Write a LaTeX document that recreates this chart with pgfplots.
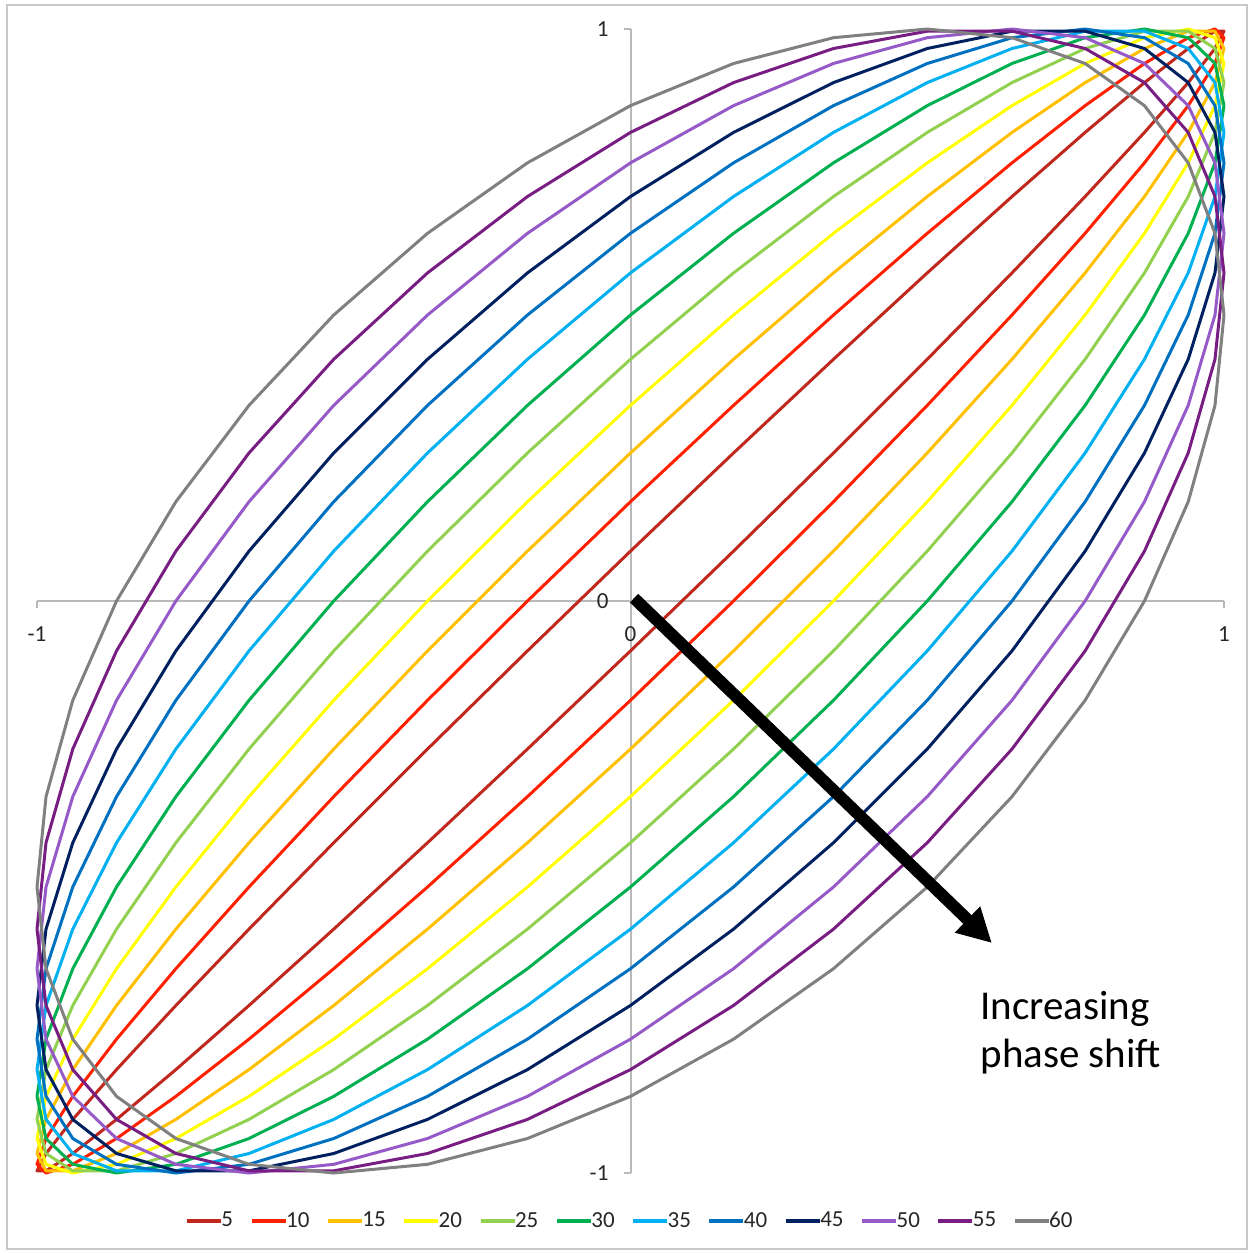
\documentclass[border=0pt]{standalone}
\usepackage{pgfplots}
\pgfplotsset{compat=1.18}
\usepackage{pgfplotstable}
\usepackage{fontspec}
\setmainfont{Carlito}
\usetikzlibrary{arrows.meta}

\definecolor{c5}{RGB}{192,40,30}
\definecolor{c10}{RGB}{255,32,0}
\definecolor{c15}{RGB}{255,192,0}
\definecolor{c20}{RGB}{255,255,0}
\definecolor{c25}{RGB}{146,208,80}
\definecolor{c30}{RGB}{0,176,80}
\definecolor{c35}{RGB}{0,176,240}
\definecolor{c40}{RGB}{0,112,192}
\definecolor{c45}{RGB}{0,32,96}
\definecolor{c50}{RGB}{150,90,200}
\definecolor{c55}{RGB}{120,30,130}
\definecolor{c60}{RGB}{128,128,128}
\definecolor{axgray}{RGB}{185,185,185}
\definecolor{framegray}{RGB}{200,200,200}

% x = sin(t), y = sin(t + phase), t = 0..360 deg in 10 deg steps
\pgfplotstableread{
x y5 y10 y15 y20 y25 y30 y35 y40 y45 y50 y55 y60
0 0.0872 0.1736 0.2588 0.3420 0.4226 0.5 0.5736 0.6428 0.7071 0.7660 0.8192 0.8660
0.1736 0.2588 0.3420 0.4226 0.5 0.5736 0.6428 0.7071 0.7660 0.8192 0.8660 0.9063 0.9397
0.3420 0.4226 0.5 0.5736 0.6428 0.7071 0.7660 0.8192 0.8660 0.9063 0.9397 0.9659 0.9848
0.5 0.5736 0.6428 0.7071 0.7660 0.8192 0.8660 0.9063 0.9397 0.9659 0.9848 0.9962 1
0.6428 0.7071 0.7660 0.8192 0.8660 0.9063 0.9397 0.9659 0.9848 0.9962 1 0.9962 0.9848
0.7660 0.8192 0.8660 0.9063 0.9397 0.9659 0.9848 0.9962 1 0.9962 0.9848 0.9659 0.9397
0.8660 0.9063 0.9397 0.9659 0.9848 0.9962 1 0.9962 0.9848 0.9659 0.9397 0.9063 0.8660
0.9397 0.9659 0.9848 0.9962 1 0.9962 0.9848 0.9659 0.9397 0.9063 0.8660 0.8192 0.7660
0.9848 0.9962 1 0.9962 0.9848 0.9659 0.9397 0.9063 0.8660 0.8192 0.7660 0.7071 0.6428
1 0.9962 0.9848 0.9659 0.9397 0.9063 0.8660 0.8192 0.7660 0.7071 0.6428 0.5736 0.5
0.9848 0.9659 0.9397 0.9063 0.8660 0.8192 0.7660 0.7071 0.6428 0.5736 0.5 0.4226 0.3420
0.9397 0.9063 0.8660 0.8192 0.7660 0.7071 0.6428 0.5736 0.5 0.4226 0.3420 0.2588 0.1736
0.8660 0.8192 0.7660 0.7071 0.6428 0.5736 0.5 0.4226 0.3420 0.2588 0.1736 0.0872 0
0.7660 0.7071 0.6428 0.5736 0.5 0.4226 0.3420 0.2588 0.1736 0.0872 0 -0.0872 -0.1736
0.6428 0.5736 0.5 0.4226 0.3420 0.2588 0.1736 0.0872 0 -0.0872 -0.1736 -0.2588 -0.3420
0.5 0.4226 0.3420 0.2588 0.1736 0.0872 0 -0.0872 -0.1736 -0.2588 -0.3420 -0.4226 -0.5
0.3420 0.2588 0.1736 0.0872 0 -0.0872 -0.1736 -0.2588 -0.3420 -0.4226 -0.5 -0.5736 -0.6428
0.1736 0.0872 0 -0.0872 -0.1736 -0.2588 -0.3420 -0.4226 -0.5 -0.5736 -0.6428 -0.7071 -0.7660
0 -0.0872 -0.1736 -0.2588 -0.3420 -0.4226 -0.5 -0.5736 -0.6428 -0.7071 -0.7660 -0.8192 -0.8660
-0.1736 -0.2588 -0.3420 -0.4226 -0.5 -0.5736 -0.6428 -0.7071 -0.7660 -0.8192 -0.8660 -0.9063 -0.9397
-0.3420 -0.4226 -0.5 -0.5736 -0.6428 -0.7071 -0.7660 -0.8192 -0.8660 -0.9063 -0.9397 -0.9659 -0.9848
-0.5 -0.5736 -0.6428 -0.7071 -0.7660 -0.8192 -0.8660 -0.9063 -0.9397 -0.9659 -0.9848 -0.9962 -1
-0.6428 -0.7071 -0.7660 -0.8192 -0.8660 -0.9063 -0.9397 -0.9659 -0.9848 -0.9962 -1 -0.9962 -0.9848
-0.7660 -0.8192 -0.8660 -0.9063 -0.9397 -0.9659 -0.9848 -0.9962 -1 -0.9962 -0.9848 -0.9659 -0.9397
-0.8660 -0.9063 -0.9397 -0.9659 -0.9848 -0.9962 -1 -0.9962 -0.9848 -0.9659 -0.9397 -0.9063 -0.8660
-0.9397 -0.9659 -0.9848 -0.9962 -1 -0.9962 -0.9848 -0.9659 -0.9397 -0.9063 -0.8660 -0.8192 -0.7660
-0.9848 -0.9962 -1 -0.9962 -0.9848 -0.9659 -0.9397 -0.9063 -0.8660 -0.8192 -0.7660 -0.7071 -0.6428
-1 -0.9962 -0.9848 -0.9659 -0.9397 -0.9063 -0.8660 -0.8192 -0.7660 -0.7071 -0.6428 -0.5736 -0.5
-0.9848 -0.9659 -0.9397 -0.9063 -0.8660 -0.8192 -0.7660 -0.7071 -0.6428 -0.5736 -0.5 -0.4226 -0.3420
-0.9397 -0.9063 -0.8660 -0.8192 -0.7660 -0.7071 -0.6428 -0.5736 -0.5 -0.4226 -0.3420 -0.2588 -0.1736
-0.8660 -0.8192 -0.7660 -0.7071 -0.6428 -0.5736 -0.5 -0.4226 -0.3420 -0.2588 -0.1736 -0.0872 0
-0.7660 -0.7071 -0.6428 -0.5736 -0.5 -0.4226 -0.3420 -0.2588 -0.1736 -0.0872 0 0.0872 0.1736
-0.6428 -0.5736 -0.5 -0.4226 -0.3420 -0.2588 -0.1736 -0.0872 0 0.0872 0.1736 0.2588 0.3420
-0.5 -0.4226 -0.3420 -0.2588 -0.1736 -0.0872 0 0.0872 0.1736 0.2588 0.3420 0.4226 0.5
-0.3420 -0.2588 -0.1736 -0.0872 0 0.0872 0.1736 0.2588 0.3420 0.4226 0.5 0.5736 0.6428
-0.1736 -0.0872 0 0.0872 0.1736 0.2588 0.3420 0.4226 0.5 0.5736 0.6428 0.7071 0.7660
0 0.0872 0.1736 0.2588 0.3420 0.4226 0.5 0.5736 0.6428 0.7071 0.7660 0.8192 0.8660
}\lissa

\begin{document}
\begin{tikzpicture}
\useasboundingbox (0,0) rectangle (625.5pt,-626.5pt);
\begin{axis}[
  at={(18.5pt,-14.5pt)}, anchor=north west,
  scale only axis, width=593.5pt, height=572pt,
  xmin=-1, xmax=1, ymin=-1, ymax=1,
  clip=false,
  axis lines=middle,
  axis line style={-, draw=axgray, line width=1pt},
  xtick={-1,0,1}, ytick={-1,0,1},
  tick align=outside, major tick length=3.5pt,
  tick style={draw=axgray, line width=1pt},
  hide obscured x ticks=false, hide obscured y ticks=false,
  /pgf/number format/assume math mode=true,
  ticklabel style={font=\fontsize{11.5}{13}\selectfont, text=black!85},
  xticklabel style={anchor=north, yshift=-6pt},
  yticklabel style={anchor=east, xshift=-4pt},
  legend columns=12,
  legend style={draw=none, fill=none, at={(0.5,-0.042)}, anchor=center,
    font=\fontsize{11.5}{13}\selectfont, text=black!85,
    nodes={inner xsep=1.5pt},
    /tikz/every even column/.append style={column sep=7pt}},
  % the swatch runs a little past its reserved box, up to the label
  legend image code/.code={%
    \path (0pt,0pt) -- (15pt,0pt);
    \draw[#1, overlay, line width=2pt] (0pt,0pt) -- (17pt,0pt);},
  every axis plot/.append style={line width=1.5pt, line join=round},
]
\addplot[c5]  table[x=x, y=y5]  {\lissa}; \addlegendentry{5}
\addplot[c10] table[x=x, y=y10] {\lissa}; \addlegendentry{10}
\addplot[c15] table[x=x, y=y15] {\lissa}; \addlegendentry{15}
\addplot[c20] table[x=x, y=y20] {\lissa}; \addlegendentry{20}
\addplot[c25] table[x=x, y=y25] {\lissa}; \addlegendentry{25}
\addplot[c30] table[x=x, y=y30] {\lissa}; \addlegendentry{30}
\addplot[c35] table[x=x, y=y35] {\lissa}; \addlegendentry{35}
\addplot[c40] table[x=x, y=y40] {\lissa}; \addlegendentry{40}
\addplot[c45] table[x=x, y=y45] {\lissa}; \addlegendentry{45}
\addplot[c50] table[x=x, y=y50] {\lissa}; \addlegendentry{50}
\addplot[c55] table[x=x, y=y55] {\lissa}; \addlegendentry{55}
\addplot[c60] table[x=x, y=y60] {\lissa}; \addlegendentry{60}

% direction of increasing phase
\draw[black, line width=6pt, -{Triangle[length=17pt, width=17pt]}]
  (axis cs:0.006,0.005) -- (axis cs:0.609,-0.598);
\node[anchor=base west, inner sep=0pt, font=\fontsize{20.5}{24}\selectfont]
  at (axis cs:0.589,-0.7325) {Increasing};
\node[anchor=base west, inner sep=0pt, font=\fontsize{20.5}{24}\selectfont]
  at (axis cs:0.589,-0.8147) {phase shift};
\end{axis}
\draw[framegray, line width=1pt] (3.5pt,-2.5pt) rectangle (623.5pt,-624.5pt);
\end{tikzpicture}
\end{document}
